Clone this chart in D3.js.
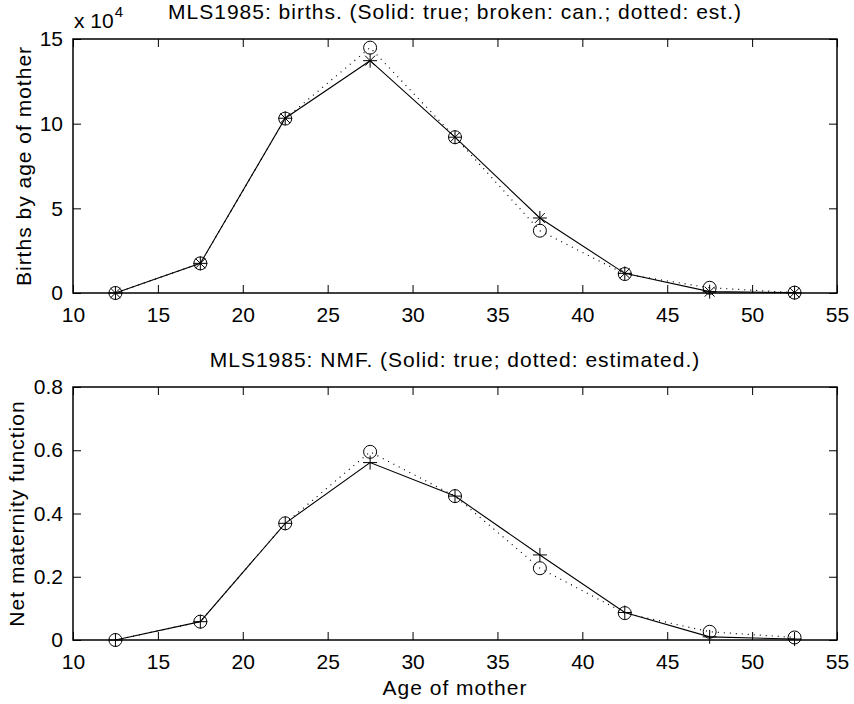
<!DOCTYPE html>
<html>
<head>
<meta charset="utf-8">
<script src="https://cdn.jsdelivr.net/npm/d3@7"></script>
<style>
  body { margin: 0; background: #fff; }
  text { font-family: "Liberation Sans", Arial, Helvetica, sans-serif; fill: #000; }
</style>
</head>
<body>
<svg width="854" height="704"></svg>
<script>
// age groups (midpoints)
const ages = [12.5, 17.5, 22.5, 27.5, 32.5, 37.5, 42.5, 47.5, 52.5];

// births, in units of 10^4
const birthsTrue = [0, 1.75, 10.32, 13.72, 9.2, 4.43, 1.16, 0.08, 0.02];
const birthsEst  = [0, 1.75, 10.3, 14.49, 9.2, 3.68, 1.12, 0.31, 0.02];

// net maternity function
const nmfTrue = [0, 0.058, 0.369, 0.561, 0.455, 0.269, 0.087, 0.01, 0.003];
const nmfEst  = [0, 0.058, 0.369, 0.595, 0.455, 0.227, 0.085, 0.026, 0.008];

const xTicks = [10, 15, 20, 25, 30, 35, 40, 45, 50, 55];
const yTicksTop = [0, 5, 10, 15];
const yTicksBottom = [0, 0.2, 0.4, 0.6, 0.8];

let svg = d3.select("svg");

const left = 73, right = 837;

function panel(top, bottom, yDomain, yTicks, yFmt, trueVals, estVals, marker, title, ylabel, ylabelX) {
    let x = d3.scaleLinear().domain([10, 55]).range([left, right]);
    let y = d3.scaleLinear().domain(yDomain).range([bottom, top]);
    let g = svg.append("g");
    const tick = 8;

    // axes (ticks pointing inwards, mirrored on all sides)
    g.append("g")
        .attr("transform", `translate(0,${bottom})`)
        .call(d3.axisBottom(x).tickValues(xTicks).tickSizeInner(-tick).tickSizeOuter(0).tickPadding(14))
        .call(a => a.select(".domain").remove())
        .call(a => a.selectAll("text").attr("font-size", 21));
    g.append("g")
        .attr("transform", `translate(0,${top})`)
        .call(d3.axisTop(x).tickValues(xTicks).tickSizeInner(-tick).tickSizeOuter(0).tickFormat(""))
        .call(a => a.select(".domain").remove());
    g.append("g")
        .attr("transform", `translate(${left},0)`)
        .call(d3.axisLeft(y).tickValues(yTicks).tickSizeInner(-tick).tickSizeOuter(0).tickPadding(10).tickFormat(yFmt))
        .call(a => a.select(".domain").remove())
        .call(a => a.selectAll("text").attr("font-size", 21));
    g.append("g")
        .attr("transform", `translate(${right},0)`)
        .call(d3.axisRight(y).tickValues(yTicks).tickSizeInner(-tick).tickSizeOuter(0).tickFormat(""))
        .call(a => a.select(".domain").remove());

    g.append("rect")
        .attr("x", left).attr("y", top)
        .attr("width", right - left).attr("height", bottom - top)
        .attr("fill", "none").attr("stroke", "#000").attr("stroke-width", 1.5);

    let line = d3.line().x((d, i) => x(ages[i])).y(d => y(d));

    g.append("path")
        .datum(estVals)
        .attr("fill", "none")
        .attr("stroke", "#000")
        .attr("stroke-width", 1.2)
        .attr("stroke-dasharray", "1,5")
        .attr("d", line);

    g.append("path")
        .datum(trueVals)
        .attr("fill", "none")
        .attr("stroke", "#000")
        .attr("stroke-width", 1.1)
        .attr("d", line);

    // circles for estimated
    g.selectAll(".est")
        .data(estVals)
        .enter()
        .append("circle")
        .attr("class", "est")
        .attr("cx", (d, i) => x(ages[i]))
        .attr("cy", d => y(d))
        .attr("r", 6.5)
        .attr("fill", "none")
        .attr("stroke", "#000")
        .attr("stroke-width", 1);

    // asterisk or plus for true
    const s = 7;
    let marks = g.selectAll(".tru")
        .data(trueVals)
        .enter()
        .append("path")
        .attr("class", "tru")
        .attr("transform", (d, i) => `translate(${x(ages[i])},${y(d)})`)
        .attr("fill", "none")
        .attr("stroke", "#000")
        .attr("stroke-width", 1);
    if (marker === "*") {
        const a = s * 0.7071;
        marks.attr("d", `M${-s},0H${s}M0,${-s}V${s}M${-a},${-a}L${a},${a}M${-a},${a}L${a},${-a}`);
    } else {
        marks.attr("d", `M${-s},0H${s}M0,${-s}V${s}`);
    }

    g.append("text")
        .attr("x", (left + right) / 2)
        .attr("y", top - 20)
        .attr("text-anchor", "middle")
        .attr("font-size", 21)
        .attr("letter-spacing", 1)
        .text(title);

    g.append("text")
        .attr("transform", `translate(${ylabelX},${(top + bottom) / 2}) rotate(-90)`)
        .attr("text-anchor", "middle")
        .attr("font-size", 21)
        .attr("letter-spacing", 1)
        .text(ylabel);

    return { x, y, g };
}

let topP = panel(39, 293, [0, 15], yTicksTop, d3.format("d"), birthsTrue, birthsEst, "*",
    "MLS1985: births. (Solid: true; broken: can.; dotted: est.)", "Births by age of mother", 31);

// exponent label
let ex = topP.g.append("text")
    .attr("x", 74)
    .attr("y", 28)
    .attr("font-size", 21);
ex.append("tspan").text("x 10");
ex.append("tspan").attr("dy", -11).attr("dx", 1).attr("font-size", 15).text("4");

let botP = panel(387, 640, [0, 0.8], yTicksBottom, d3.format(".1~f"), nmfTrue, nmfEst, "+",
    "MLS1985: NMF. (Solid: true; dotted: estimated.)", "Net maternity function", 24);

botP.g.append("text")
    .attr("x", (left + right) / 2)
    .attr("y", 695)
    .attr("text-anchor", "middle")
    .attr("font-size", 21)
    .attr("letter-spacing", 1)
    .text("Age of mother");
</script>
</body>
</html>
